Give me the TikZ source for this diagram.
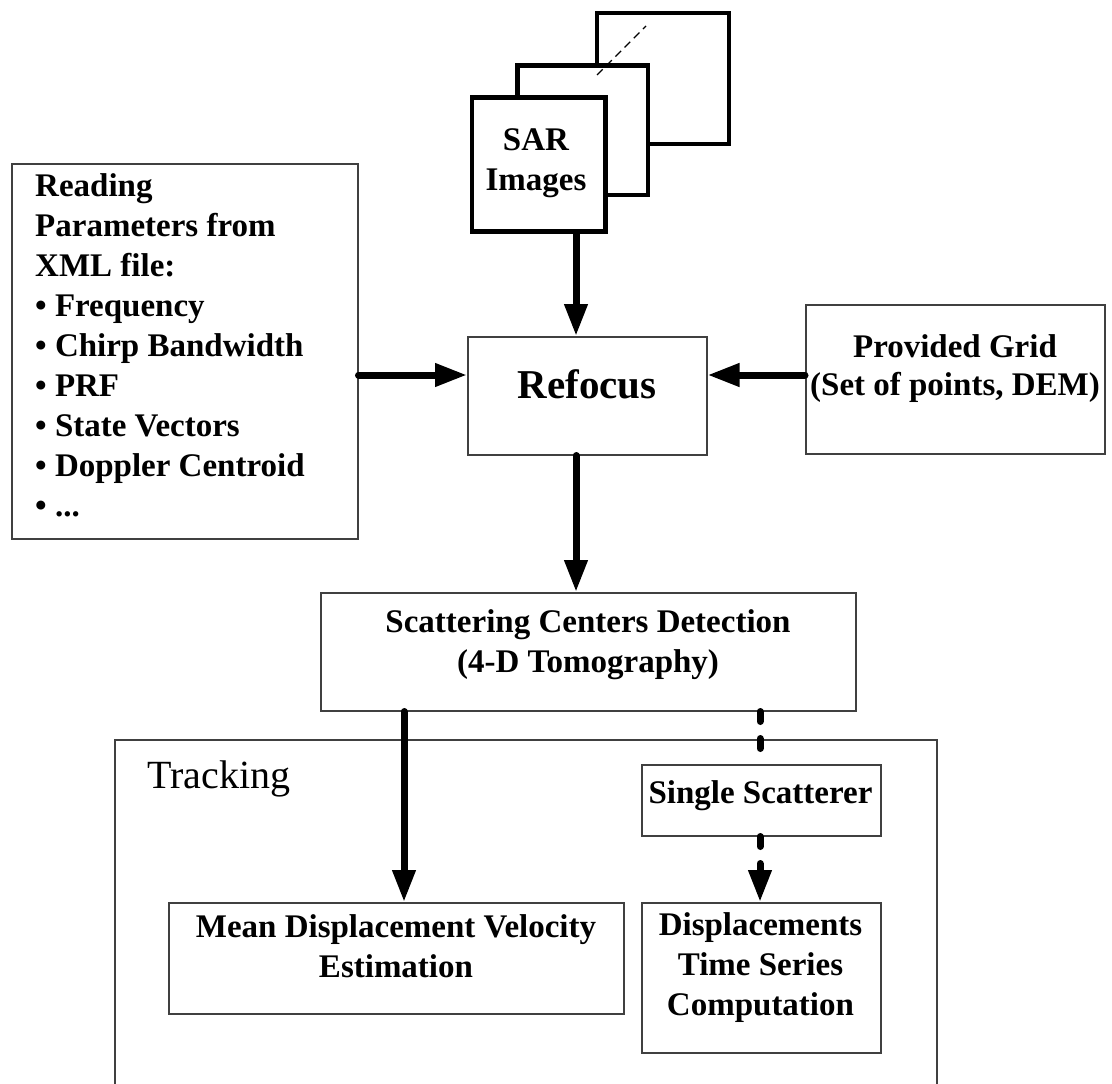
\documentclass[tikz,border=0pt]{standalone}
\usepackage{fontspec}
\setmainfont{Liberation Serif}
\usetikzlibrary{arrows.meta}
\begin{document}
\begin{tikzpicture}[x=1pt,y=-1pt,
  box/.style={draw=black!75, line width=1.5pt, fill=white, inner sep=0pt, anchor=north west},
  sarbox/.style={draw=black, line width=4.5pt, fill=white, inner sep=0pt, anchor=north west},
  txt/.style={font=\fontsize{33}{40}\selectfont\bfseries, align=center, inner sep=0pt, anchor=north},
  arr/.style={line width=7pt, line cap=round, -{Triangle[length=32pt,width=22pt]}},
  dline/.style={line width=7pt, line cap=round, dash pattern=on 10pt off 17pt},
  darr/.style={dline, -{Triangle[length=32pt,width=22pt]}}
]
\useasboundingbox (0,0) rectangle (1112,1084);
\fill[white] (0,0) rectangle (1112,1084);

% SAR image stack
\node[sarbox, minimum width=132pt, minimum height=131pt] (sarback) at (594.5,10.5) {};
\node[sarbox, minimum width=130.5pt, minimum height=129.5pt] (sarmid) at (515,63) {};
\draw[line width=1.3pt, dash pattern=on 8pt off 5pt] (597,75) -- (646,26);
\node[sarbox, minimum width=133.5pt, minimum height=134pt] (sarfront) at (469.5,95) {};
\node[txt, font=\fontsize{33}{40}\selectfont\bfseries] (sartxt) at (536,128) {SAR\\Images};

% Reading parameters
\node[box, minimum width=346pt, minimum height=375pt] (reading) at (11,163) {};
\node[inner sep=0pt, anchor=north west, align=left, font=\fontsize{33}{40}\selectfont\bfseries] (readtxt) at (35,173)
  {Reading\\Parameters from\\XML file:\\• Frequency\\• Chirp Bandwidth\\• PRF\\• State Vectors\\• Doppler Centroid\\• ...};

% Refocus
\node[box, minimum width=239pt, minimum height=118pt] (refocus) at (467,336) {};
\node[txt, font=\fontsize{41}{48}\selectfont\bfseries] (reftxt) at (587,369) {Refocus};

% Provided grid
\node[box, minimum width=299pt, minimum height=149pt] (grid) at (805,304) {};
\node[txt, font=\fontsize{33}{38}\selectfont\bfseries] (gridtxt) at (955,334) {Provided Grid\\(Set of points, DEM)};

% Scattering centers
\node[box, minimum width=535pt, minimum height=118pt] (scatter) at (320,592) {};
\node[txt] (scattxt) at (588,609) {Scattering Centers Detection\\(4-D Tomography)};

% Tracking container
\draw[draw=black!75, line width=1.5pt] (115,1086) -- (115,740) -- (937,740) -- (937,1086);
\node[inner sep=0pt, anchor=base west, font=\fontsize{40}{46}\selectfont] (tracktxt) at (147,788) {Tracking};

% Single scatterer
\node[box, minimum width=239pt, minimum height=71pt] (single) at (641,764) {};
\node[txt] (singletxt) at (760.5,780) {Single Scatterer};

% Mean displacement velocity
\node[box, minimum width=455pt, minimum height=111pt] (mean) at (168,902) {};
\node[txt] (meantxt) at (396,914) {Mean Displacement Velocity\\Estimation};

% Displacements time series
\node[box, minimum width=239pt, minimum height=150pt] (disp) at (641,902) {};
\node[txt] (disptxt) at (760.5,912) {Displacements\\Time Series\\Computation};

% connector guides
\coordinate (cx1) at (576,0);
\coordinate (cy1) at (0,375);
\coordinate (cx2) at (404,0);
\coordinate (cx3) at (760,0);

% connectors
\draw[arr] (sarfront.south -| cx1) -- (refocus.north -| cx1);
\draw[arr] (reading.east |- cy1) -- (refocus.west |- cy1);
\draw[arr] (grid.west |- cy1) -- (refocus.east |- cy1);
\draw[arr] (refocus.south -| cx1) -- (scatter.north -| cx1);
\draw[arr] (scatter.south -| cx2) -- (mean.north -| cx2);
\draw[dline] (scatter.south -| cx3) -- (single.north -| cx3);
\draw[darr] (single.south -| cx3) -- (disp.north -| cx3);
\end{tikzpicture}
\end{document}
